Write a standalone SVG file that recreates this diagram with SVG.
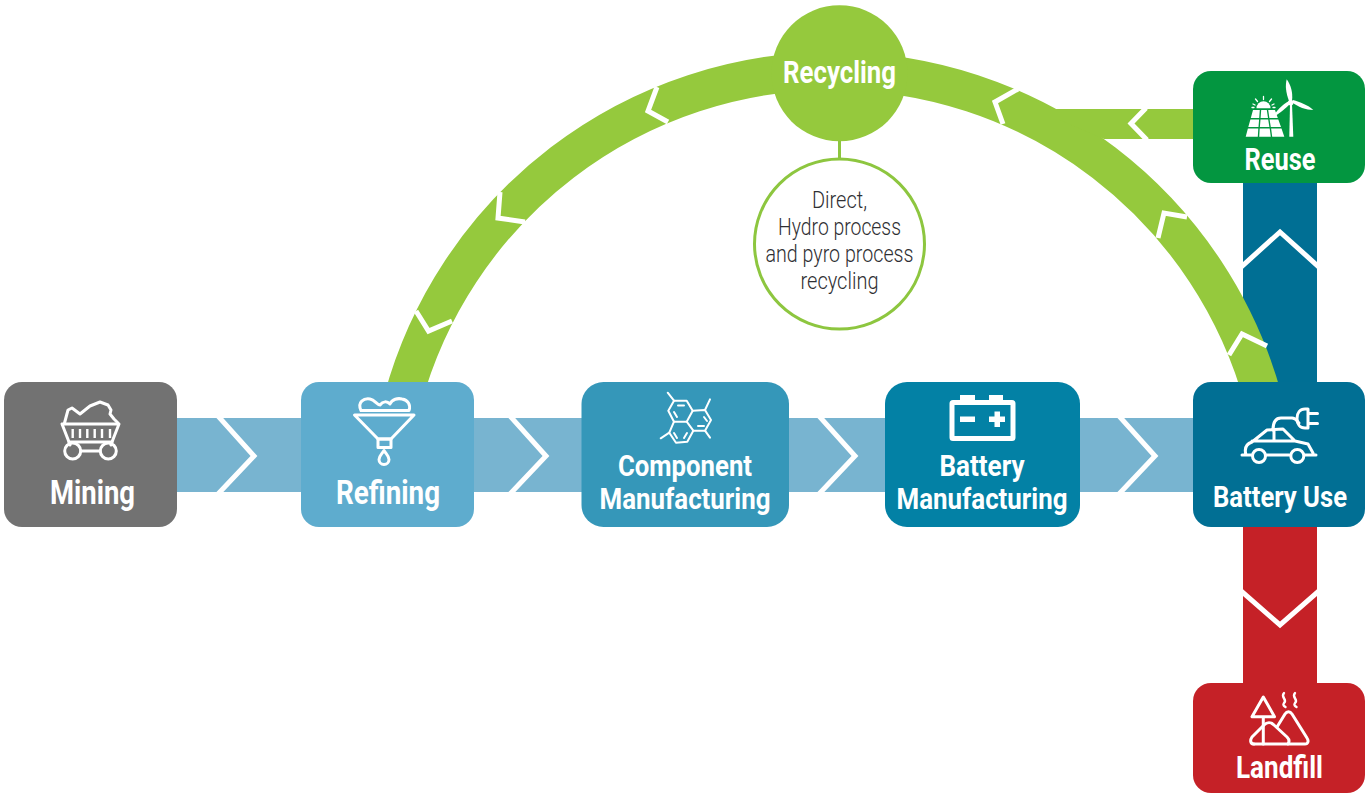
<svg xmlns="http://www.w3.org/2000/svg" width="1365" height="793" viewBox="0 0 1365 793">
<style>
.t{font-family:Roboto,"Liberation Sans",sans-serif;font-weight:700;fill:#fff;text-anchor:middle}
.d{font-family:Roboto,"Liberation Sans",sans-serif;font-weight:300;fill:#2f2f33;font-size:24.500px;text-anchor:middle}
.i{fill:none;stroke:#fff;stroke-width:3;stroke-linejoin:round;stroke-linecap:round}
.w{fill:#fff;stroke:none}
.c{fill:none;stroke:#fff;stroke-width:5}
.a{fill:none;stroke:#fff;stroke-width:5}
</style>
<defs>
<clipPath id="hb"><rect x="177" y="418" width="1016" height="74"/></clipPath>
<clipPath id="vb"><rect x="1243" y="182" width="74" height="501"/></clipPath>
</defs>
<rect width="1365" height="793" fill="#fff"/>
<g id="connectors">
<rect x="177" y="418" width="1016" height="74" fill="#78b4d0"/>
<g clip-path="url(#hb)">
<polyline class="c" points="218,416 254,456 218,494"/>
<polyline class="c" points="510,416 546,456 510,494"/>
<polyline class="c" points="819,416 855,456 819,494"/>
<polyline class="c" points="1119,416 1155,456 1119,494"/>
</g>
<rect x="1243" y="182" width="74" height="200" fill="#006f94"/>
<rect x="1243" y="527" width="74" height="156" fill="#c52127"/>
<g clip-path="url(#vb)">
<polyline class="c" points="1240,268 1280,232 1320,268"/>
<polyline class="c" points="1240,590 1280,625 1320,590"/>
</g>
<path d="M402.600 400A446 446 0 0 1 1263.400 400" fill="none" stroke="#95c93d" stroke-width="38"/>
<polygon points="1050,109 1193,109 1193,139 1104,139 1060,120" fill="#95c93d"/>
<polyline class="a" points="416,311 428.500,331 452,321"/>
<polyline class="a" points="500,192 498,218 525,222"/>
<polyline class="a" points="657,87 648,111 668,122"/>
<polyline class="a" points="1018,89 995,102 1003,124"/>
<polyline class="a" points="1187,217 1164,213 1158,238"/>
<polyline class="a" points="1267,346 1242,334 1229,355"/>
<polyline class="a" points="1146,108 1131,123.500 1147,140"/>
<line x1="839.500" y1="140" x2="839.500" y2="160" stroke="#8dc63f" stroke-width="3"/>
</g>
<g id="mining">
<rect x="4" y="382" width="173" height="145" rx="18" fill="#727272"/>
<path class="i" d="M64.500 423L68 410L72 408L80 414L90 406L100 402L108 405L111 410L110 414L114 419L118 423"/>
<path class="i" d="M62 424H119L112 442H69Z"/>
<path class="i" style="stroke-width:2.400;stroke-linecap:butt" d="M72.700 429V438M80 429V438M87.300 429V438M94.700 429V438M102 429V438M110 429V438"/>
<path class="i" d="M81 451H100M69 442L70 445M112 442L111 445"/>
<circle class="i" cx="72.700" cy="451" r="8"/><circle class="i" cx="108.300" cy="451" r="8"/>
<text class="t" x="92.500" y="503.500" font-size="33" textLength="85" lengthAdjust="spacingAndGlyphs">Mining</text>
</g>
<g id="refining">
<rect x="301" y="382" width="173" height="145" rx="18" fill="#5eacce"/>
<path class="i" d="M361 410.500C357 402 364 398 370 399C375 400 377 405 380 405C383 401 387 401 390 404C392 399 398 398 402 399C408 400 411 405 409 410.500Z"/>
<path class="i" d="M354.500 415H414L391 439H378Z"/>
<rect class="i" x="378" y="439" width="13" height="8.500"/>
<path class="i" d="M384 450.500C382 454 379 456 379 459.500A5 5 0 0 0 389 459.500C389 456 386 454 384 450.500Z"/>
<text class="t" x="388" y="503.500" font-size="33" textLength="104" lengthAdjust="spacingAndGlyphs">Refining</text>
</g>
<g id="component-manufacturing">
<rect x="581.500" y="382" width="207.500" height="145" rx="22" fill="#3597b9"/>
<g class="i" style="stroke-width:2">
<path d="M674 400.700H686.700L692.700 410.700L686.700 421.700H674L668.300 410.700Z"/>
<path d="M692.700 410.700L705 410L711 420L705 430.700H693.300L686.700 421.700"/>
<path d="M674 421.700L669.300 432.700L676 442.700L687.300 441.700L693.300 430.700"/>
<path d="M674 400.700L667.700 392.700M705 410L710 399.300M705 430.700L710 437.700M669.300 432.700L660.700 438.300"/>
<path d="M678 405.500H684M674 412L677 417M704 417L707 421M698 426H704M674 433L677 438M687 433L684 438"/>
</g>
<text class="t" x="685" y="476" font-size="30" textLength="134" lengthAdjust="spacingAndGlyphs">Component</text>
<text class="t" x="685" y="508.500" font-size="30" textLength="171" lengthAdjust="spacingAndGlyphs">Manufacturing</text>
</g>
<g id="battery-manufacturing">
<rect x="885" y="382" width="195" height="145" rx="22" fill="#0381a5"/>
<rect x="952" y="402.500" width="61" height="36" rx="1" fill="none" stroke="#fff" stroke-width="5"/>
<path class="w" d="M960 395H975V400H960ZM989 395H1003V400H989ZM960 416.500H975V422H960ZM989 416.500H994.500V411.500H1000V416.500H1005V422H1000V427H994.500V422H989Z"/>
<text class="t" x="982" y="476" font-size="30" textLength="85" lengthAdjust="spacingAndGlyphs">Battery</text>
<text class="t" x="982" y="508.500" font-size="30" textLength="171" lengthAdjust="spacingAndGlyphs">Manufacturing</text>
</g>
<g id="battery-use">
<rect x="1193" y="382" width="172" height="145" rx="18" fill="#016f94"/>
<path class="i" d="M1242 455H1251M1267 455H1289M1305 455H1316M1246 455C1244 448 1246 444 1252 442L1267 430L1283 429L1295 441L1308 444L1313 453M1252 441H1295M1274 430V441"/>
<circle class="i" cx="1259" cy="456" r="6.500"/><circle class="i" cx="1297.300" cy="456" r="6.500"/>
<path class="i" d="M1273 430C1273 421 1276 418 1281 418H1292C1296 418 1297 421 1299 423"/>
<path class="i" d="M1308 409V428H1305C1300 428 1297 424 1297 418.500C1297 413 1300 409 1305 409ZM1308 413.500H1317.500M1308 423.500H1317.500"/>
<text class="t" x="1280" y="506.500" font-size="29" textLength="134" lengthAdjust="spacingAndGlyphs">Battery Use</text>
</g>
<g id="reuse">
<rect x="1193" y="71" width="172" height="112" rx="18" fill="#039640"/>
<polygon class="w" points="1289.300,136.700 1293.300,136.700 1292,104 1290,104"/>
<circle class="w" cx="1290.700" cy="102.700" r="2.700"/>
<path class="w" d="M1286.700 79.300C1291 85 1293 93 1292 101L1289 101C1286 93 1285 86 1286.700 79.300Z"/>
<path class="w" d="M1313.300 110C1306 110 1298 107 1291.500 102L1293 100C1300 102 1308 105 1313.300 110Z"/>
<path class="w" d="M1272.700 117.300C1276 111 1282 105 1289 101L1290.500 103.500C1285 109 1279 114 1272.700 117.300Z"/>
<path class="w" d="M1253 110H1259.800L1259.200 118H1250.800ZM1261.200 110H1266.800L1268 118H1260.600ZM1268.200 110H1275L1277.800 118H1269.400ZM1250.400 119.500H1259.100L1258.500 127H1248.300ZM1260.500 119.500H1268.200L1269.400 127H1259.900ZM1269.600 119.500H1278.300L1281 127H1270.800ZM1247.900 128.500H1258.300L1257.800 136.700H1245.700ZM1259.700 128.500H1269.700L1270.800 136.700H1259.200ZM1271.100 128.500H1281.500L1284.300 136.700H1272.200Z"/>
<path class="w" d="M1256.500 108.300A7 7 0 0 1 1270.500 108.300Z"/>
<path class="i" style="stroke-width:1.300" d="M1263.500 96.500V99.500M1255.500 99L1257.500 101.500M1271.500 99L1269.500 101.500M1253 104L1255 105M1274 104L1272 105M1252 107.500H1254M1273 107.500H1275"/>
<text class="t" x="1280" y="169.500" font-size="31" textLength="71" lengthAdjust="spacingAndGlyphs">Reuse</text>
</g>
<g id="landfill">
<rect x="1193" y="683" width="172" height="110" rx="18" fill="#c52127"/>
<path class="i" d="M1263.300 697L1252 716.700H1274.500ZM1263.300 716.700V744"/>
<path class="i" d="M1254 744H1305C1308 744 1309 741 1307 738L1292 714C1290 711 1287 711 1285 714L1277 727"/>
<path class="i" d="M1288 744C1290 741 1289 739 1287 737L1274 725C1271 722 1267 722 1264 725L1252 737C1250 740 1250 744 1254 744"/>
<path class="i" style="stroke-width:2.400" d="M1284 693C1280 697 1288 700 1284 703C1282.500 705 1284 706 1285.500 707M1295 693C1291 697 1299 700 1295 703C1293.500 705 1295 706 1296.500 707"/>
<text class="t" x="1279.500" y="777.500" font-size="31" textLength="87" lengthAdjust="spacingAndGlyphs">Landfill</text>
</g>
<g id="recycling">
<circle cx="839.500" cy="73.300" r="68" fill="#95c93d"/>
<text class="t" x="839.500" y="82.500" font-size="31" textLength="113" lengthAdjust="spacingAndGlyphs">Recycling</text>
</g>
<g id="recycling-detail">
<circle cx="839.500" cy="244" r="85" fill="#fff" stroke="#8dc63f" stroke-width="3"/>
<text class="d" x="839.500" y="208" textLength="55" lengthAdjust="spacingAndGlyphs">Direct,</text>
<text class="d" x="839.500" y="235" textLength="123" lengthAdjust="spacingAndGlyphs">Hydro process</text>
<text class="d" x="839.500" y="262" textLength="148" lengthAdjust="spacingAndGlyphs">and pyro process</text>
<text class="d" x="839.500" y="288.500" textLength="78" lengthAdjust="spacingAndGlyphs">recycling</text>
</g>
</svg>
